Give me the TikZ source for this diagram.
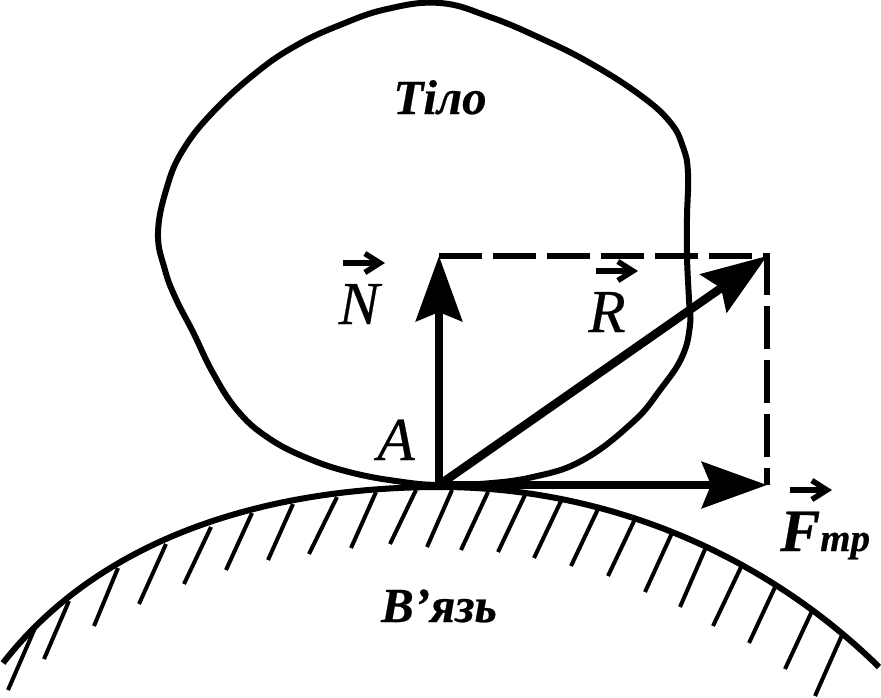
\documentclass[tikz,border=0pt]{standalone}
\usepackage{fontspec}
\setmainfont{Liberation Serif}
\usetikzlibrary{arrows.meta, calc}
\tikzset{
    my-force/.style={
        line width=8.5pt, -{Stealth[length=65pt, width=46pt, inset=9pt]}
    },
    my-dashed/.style={
        line width=6.5pt, dash pattern=on 43pt off 11pt
    },
    my-contour/.style={
        line width=6pt, line join=round
    },
    my-hatch/.style={
        line width=4pt
    },
    my-vec/.style={
        line width=5.5pt, -{Straight Barb[length=15pt, width=19pt, line width=5.5pt]}
    },
    my-label/.style={
        inner sep=0pt, anchor=base, font=\fontsize{61}{61}\selectfont\itshape\addfontfeature{FakeBold=0.4}
    },
    my-title/.style={
        inner sep=0pt, anchor=base, font=\fontsize{49}{49}\selectfont\bfseries\itshape\addfontfeature{FakeBold=0.5}
    },
}
\begin{document}
\begin{tikzpicture}[x=1pt, y=-1pt]
        \useasboundingbox (0, 0) rectangle (881, 697);

        % FORCE POINTS
        \coordinate (A)    at (439, 485);
        \coordinate (NTOP) at (439, 256);
        \coordinate (RTOP) at (767, 256);
        \coordinate (FEND) at (767, 485);

        % CONSTRAINT SURFACE AND HATCHING
        \foreach \xa/\ya/\xb/\yb in {35/628/8/690, 69/601/44/659, 118/568/94/626, 166/544/139/604,
                211/527/184/584, 252/513/226/570, 293/504/268/560, 337/497/309/554,
                376/492/351/548, 416/490/390/544, 452/490/427/547, 488/492/461/550,
                525/495/498/552, 561/501/534/558, 598/509/571/566, 635/519/608/576,
                672/533/645/592, 706/547/680/607, 742/565/713/626, 776/585/749/643,
                812/611/785/669, 842/635/815/696}
            \draw[my-hatch] (\xa, \ya) -- (\xb, \yb);
        \coordinate (SURFL) at (3, 663);
        \coordinate (SURFT) at (440, 487);
        \coordinate (SURFR) at (879, 667);
        \draw[my-contour] (SURFL) .. controls (105, 532) and (277, 487) .. (SURFT)
                .. controls (603, 487) and (762, 552) .. (SURFR);

        % BODY
        \draw[my-contour] plot[smooth cycle, tension=.7] coordinates {
                (440, 3) (490, 17) (540, 38) (590, 63) (640, 95) (670, 122) (683, 147)
                (688, 173) (687, 217) (687, 257) (689, 300) (690, 325) (682, 357) (660, 390)
                (633, 422) (583, 460) (533, 477) (480, 484) (439, 485) (403, 482) (353, 473)
                (307, 458) (267, 437) (237, 410) (213, 373) (193, 332) (176, 299) (165, 270)
                (158, 233) (167, 187) (183, 150) (213, 112) (257, 72) (297, 45) (340, 25) (387, 9)};

        % DASHED PARALLELOGRAM
        \draw[my-dashed] (NTOP) -- (RTOP) -- (FEND);

        % FORCES
        \draw[my-force] (A) -- (NTOP);
        \draw[my-force] (A) -- (RTOP);
        \draw[my-force] (A) -- (FEND);

        % LABELS
        \node[my-title] (BODY)    at (440, 114) {Тіло};
        \node[my-title] (SUPPORT) at (439, 622) {В’язь};
        \node[my-label] (ALABEL)  at (396, 460) {A};
        \node[my-label] (NLABEL)  at (359, 324) {N};
        \node[my-label] (RLABEL)  at (607, 332) {R};
        \node[inner sep=0pt, anchor=base west, font=\bfseries\itshape\addfontfeature{FakeBold=0.5}] (FLABEL) at (780, 551)
            {{\fontsize{60}{60}\selectfont F}{\fontsize{39}{39}\selectfont тр}};

        % VECTOR SIGNS
        \coordinate (NVEC) at (343, 263);
        \coordinate (RVEC) at (596, 271);
        \coordinate (FVEC) at (790, 490);
        \draw[my-vec] (NVEC) -- ($(NVEC) + (42, 0)$);
        \draw[my-vec] (RVEC) -- ($(RVEC) + (42, 0)$);
        \draw[my-vec] (FVEC) -- ($(FVEC) + (42, 0)$);

\end{tikzpicture}
\end{document}
